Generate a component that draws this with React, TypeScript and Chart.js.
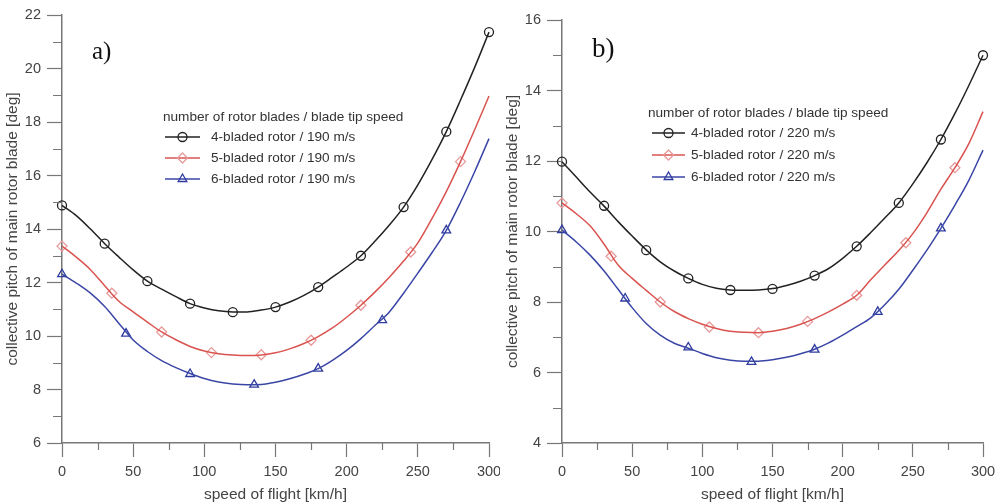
import React, { useEffect, useRef } from "react";
import { Chart, registerables } from "chart.js";

Chart.register(...registerables);

// ---------- data ----------
const speeds = [0, 10, 20, 30, 40, 50, 60, 70, 80, 90, 100, 110, 120, 130, 140, 150, 160, 170, 180, 190, 200, 210, 220, 230, 240, 250, 260, 270, 280, 290, 300];

const left4Line = [14.88, 14.5, 14.0, 13.45, 12.95, 12.47, 12.05, 11.75, 11.47, 11.21, 11.05, 10.94, 10.9, 10.9, 10.97, 11.08, 11.27, 11.52, 11.83, 12.2, 12.58, 13.0, 13.55, 14.15, 14.82, 15.65, 16.6, 17.64, 18.82, 20.05, 21.36];
const left5Line = [13.36, 12.95, 12.48, 11.88, 11.3, 10.9, 10.52, 10.15, 9.86, 9.61, 9.44, 9.34, 9.29, 9.27, 9.29, 9.37, 9.52, 9.72, 9.98, 10.3, 10.7, 11.15, 11.65, 12.2, 12.8, 13.48, 14.4, 15.4, 16.52, 17.72, 18.97];
const left6Line = [12.31, 11.98, 11.6, 11.1, 10.47, 9.85, 9.42, 9.08, 8.82, 8.6, 8.41, 8.28, 8.21, 8.18, 8.19, 8.27, 8.4, 8.57, 8.78, 9.09, 9.46, 9.9, 10.4, 10.9, 11.6, 12.35, 13.12, 13.95, 15.0, 16.15, 17.38];

const right4Line = [11.98, 11.55, 11.12, 10.72, 10.28, 9.87, 9.48, 9.14, 8.88, 8.67, 8.5, 8.39, 8.34, 8.33, 8.34, 8.38, 8.47, 8.59, 8.75, 8.95, 9.24, 9.58, 9.97, 10.38, 10.81, 11.35, 11.95, 12.61, 13.35, 14.15, 15.0];
const right5Line = [10.81, 10.51, 10.16, 9.64, 9.05, 8.67, 8.33, 8.0, 7.73, 7.53, 7.37, 7.25, 7.17, 7.14, 7.13, 7.17, 7.25, 7.37, 7.53, 7.72, 7.94, 8.19, 8.63, 9.05, 9.46, 9.94, 10.53, 11.2, 11.81, 12.5, 13.4];
const right6Line = [10.04, 9.71, 9.33, 8.88, 8.36, 7.84, 7.39, 7.06, 6.83, 6.69, 6.54, 6.42, 6.35, 6.32, 6.32, 6.36, 6.43, 6.53, 6.66, 6.84, 7.06, 7.3, 7.55, 7.92, 8.36, 8.9, 9.47, 10.09, 10.75, 11.46, 12.31];

const circleSpeeds = [0, 30, 60, 90, 120, 150, 180, 210, 240, 270, 300];
const diamondSpeeds = [0, 35, 70, 105, 140, 175, 210, 245, 280];
const triangleSpeeds = [0, 45, 90, 135, 180, 225, 270];

const left4Marks = [14.88, 13.45, 12.05, 11.21, 10.89, 11.08, 11.83, 13.0, 14.82, 17.64, 21.36];
const left5Marks = [13.36, 11.6, 10.15, 9.38, 9.3, 9.84, 11.15, 13.14, 16.52];
const left6Marks = [12.31, 10.09, 8.58, 8.18, 8.78, 10.59, 13.95];

const right4Marks = [11.98, 10.73, 9.47, 8.67, 8.34, 8.37, 8.75, 9.58, 10.81, 12.61, 15.0];
const right5Marks = [10.81, 9.3, 8.0, 7.29, 7.13, 7.45, 8.19, 9.68, 11.81];
const right6Marks = [10.04, 8.1, 6.71, 6.3, 6.65, 7.72, 10.09];

const leftLegend = ["4-bladed rotor / 190 m/s", "5-bladed rotor / 190 m/s", "6-bladed rotor / 190 m/s"];
const rightLegend = ["4-bladed rotor / 220 m/s", "5-bladed rotor / 220 m/s", "6-bladed rotor / 220 m/s"];
const legendTitle = "number of rotor blades / blade tip speed";

const xMinorTicks = [25, 75, 125, 175, 225, 275];
const leftYMinor = [7, 9, 11, 13, 15, 17, 19, 21];
const rightYMinor = [5, 7, 9, 11, 13, 15];

const xTitle = "speed of flight [km/h]";
const yTitle = "collective pitch of main rotor blade [deg]";

// ---------- styles ----------
const SANS = "'Liberation Sans', Arial, sans-serif";
const SERIF = "'Liberation Serif', 'Times New Roman', serif";
const AXIS = "#777";
const TXT = "#444";
const COLORS = {
  black: "#222222",
  red: "#d9534f",
  redMark: "#e89a9a",
  blue: "#3a46a6",
  blueMark: "#2e3b9e",
};

type Panel = {
  width: number;
  padTop: number;
  padRight: number;
  yMin: number;
  yMax: number;
  yMinor: number[];
  lines: number[][];
  marks: number[][];
  legend: string[];
  letter: string;
  letterSize: number;
  letterX: number;
  letterY: number;
  legendX: number;
  legendTitleY: number;
  legendRows: number[];
  legendLineX: [number, number];
  legendTextX: number;
};

const pts = (xs: number[], ys: number[]) => xs.map((x, i) => ({ x, y: ys[i] }));

function drawMarker(ctx: CanvasRenderingContext2D, kind: number, x: number, y: number) {
  ctx.beginPath();
  if (kind === 0) {
    ctx.arc(x, y, 4.5, 0, Math.PI * 2);
  } else if (kind === 1) {
    const r = 5;
    ctx.moveTo(x, y - r);
    ctx.lineTo(x + r, y);
    ctx.lineTo(x, y + r);
    ctx.lineTo(x - r, y);
    ctx.closePath();
  } else {
    const r = 5;
    ctx.moveTo(x, y - r);
    ctx.lineTo(x + r * 0.866, y + r * 0.5);
    ctx.lineTo(x - r * 0.866, y + r * 0.5);
    ctx.closePath();
  }
  ctx.stroke();
}

function makeDecor(p: Panel) {
  return {
    id: "decor",
    afterDraw(chart: any) {
      const { ctx, chartArea, scales } = chart;
      ctx.save();
      // minor ticks
      ctx.strokeStyle = AXIS;
      ctx.lineWidth = 1.2;
      ctx.beginPath();
      p.yMinor.forEach((v) => {
        const y = Math.round(scales.y.getPixelForValue(v)) + 0.5;
        ctx.moveTo(chartArea.left - 9, y);
        ctx.lineTo(chartArea.left, y);
      });
      xMinorTicks.forEach((v) => {
        const x = Math.round(scales.x.getPixelForValue(v)) + 0.5;
        ctx.moveTo(x, chartArea.bottom);
        ctx.lineTo(x, chartArea.bottom + 7);
      });
      ctx.stroke();

      // panel letter
      ctx.fillStyle = "#111";
      ctx.font = `${p.letterSize}px ${SERIF}`;
      ctx.textBaseline = "alphabetic";
      ctx.textAlign = "left";
      ctx.fillText(p.letter, p.letterX, p.letterY);

      // legend
      ctx.fillStyle = "#333";
      ctx.font = `13.6px ${SANS}`;
      ctx.textBaseline = "middle";
      ctx.fillText(legendTitle, p.legendX, p.legendTitleY);
      const lineCols = [COLORS.black, COLORS.red, COLORS.blue];
      const markCols = [COLORS.black, COLORS.redMark, COLORS.blueMark];
      p.legend.forEach((label, i) => {
        const y = p.legendRows[i];
        ctx.strokeStyle = lineCols[i];
        ctx.lineWidth = 1.5;
        ctx.beginPath();
        ctx.moveTo(p.legendLineX[0], y);
        ctx.lineTo(p.legendLineX[1], y);
        ctx.stroke();
        ctx.strokeStyle = markCols[i];
        ctx.lineWidth = 1.3;
        drawMarker(ctx, i, (p.legendLineX[0] + p.legendLineX[1]) / 2, y);
        ctx.fillStyle = "#333";
        ctx.fillText(label, p.legendTextX, y);
      });
      ctx.restore();
    },
  };
}

function makeConfig(p: Panel): any {
  const lineCols = [COLORS.black, COLORS.red, COLORS.blue];
  const markCols = [COLORS.black, COLORS.redMark, COLORS.blueMark];
  const markX = [circleSpeeds, diamondSpeeds, triangleSpeeds];
  const styles = ["circle", "rectRot", "triangle"];
  const radii = [4.5, 5, 5];
  const datasets: any[] = [];
  p.lines.forEach((vals, i) => {
    datasets.push({
      data: pts(speeds, vals),
      borderColor: lineCols[i],
      borderWidth: 1.5,
      pointRadius: 0,
      fill: false,
      cubicInterpolationMode: "monotone",
      clip: false,
    });
  });
  p.marks.forEach((vals, i) => {
    datasets.push({
      data: pts(markX[i], vals),
      showLine: false,
      pointStyle: styles[i],
      pointRadius: radii[i],
      pointBorderWidth: 1.3,
      pointBorderColor: markCols[i],
      pointBackgroundColor: "rgba(0,0,0,0)",
      borderColor: markCols[i],
      clip: false,
    });
  });
  return {
    type: "line",
    data: { datasets },
    options: {
      animation: false,
      responsive: false,
      maintainAspectRatio: false,
      events: [],
      layout: { padding: { top: p.padTop, right: p.padRight, left: 0, bottom: 0 } },
      plugins: { legend: { display: false }, tooltip: { enabled: false } },
      scales: {
        x: {
          type: "linear",
          min: 0,
          max: 300,
          ticks: { stepSize: 50, color: TXT, font: { size: 14.5, family: SANS }, padding: 6, maxRotation: 0 },
          grid: { display: true, drawOnChartArea: false, drawTicks: true, tickLength: 14, tickColor: AXIS, tickWidth: 1.2 },
          border: { display: true, color: AXIS, width: 1.5 },
          title: { display: true, text: xTitle, color: TXT, font: { size: 15.5, family: SANS }, padding: { top: 0, bottom: 0 } },
          afterFit: (s: any) => {
            s.height = 61;
            s.paddingLeft = 0;
            s.paddingRight = 0;
          },
        },
        y: {
          type: "linear",
          min: p.yMin,
          max: p.yMax,
          ticks: { stepSize: 2, color: TXT, font: { size: 14.5, family: SANS }, padding: 6 },
          grid: { display: true, drawOnChartArea: false, drawTicks: true, tickLength: 15, tickColor: AXIS, tickWidth: 1.2 },
          border: { display: true, color: AXIS, width: 1.5 },
          title: { display: true, text: yTitle, color: TXT, font: { size: 15.5, family: SANS }, padding: { top: 3, bottom: 0 } },
          afterFit: (s: any) => {
            s.width = 62;
            s.paddingTop = 0;
            s.paddingBottom = 0;
          },
        },
      },
    },
    plugins: [makeDecor(p)],
  };
}

function ChartPanel({ panel, left }: { panel: Panel; left: number }) {
  const ref = useRef<HTMLCanvasElement | null>(null);
  useEffect(() => {
    if (!ref.current) return;
    const chart = new Chart(ref.current, makeConfig(panel));
    return () => chart.destroy();
  }, [panel]);
  return (
    <canvas
      ref={ref}
      width={panel.width}
      height={504}
      style={{ position: "absolute", left, top: 0, width: panel.width, height: 504, display: "block" }}
    />
  );
}

const leftPanel: Panel = {
  width: 500,
  padTop: 15,
  padRight: 11,
  yMin: 6,
  yMax: 22,
  yMinor: leftYMinor,
  lines: [left4Line, left5Line, left6Line],
  marks: [left4Marks, left5Marks, left6Marks],
  legend: leftLegend,
  letter: "a)",
  letterSize: 25,
  letterX: 92,
  letterY: 59,
  legendX: 163,
  legendTitleY: 117,
  legendRows: [137, 158, 179],
  legendLineX: [165, 200],
  legendTextX: 211,
};

const rightPanel: Panel = {
  width: 502,
  padTop: 20,
  padRight: 19,
  yMin: 4,
  yMax: 16,
  yMinor: rightYMinor,
  lines: [right4Line, right5Line, right6Line],
  marks: [right4Marks, right5Marks, right6Marks],
  legend: rightLegend,
  letter: "b)",
  letterSize: 27,
  letterX: 92,
  letterY: 57,
  legendX: 148,
  legendTitleY: 113,
  legendRows: [133, 155, 177],
  legendLineX: [152, 185],
  legendTextX: 191,
};

export default function App() {
  useEffect(() => {
    document.body.style.margin = "0";
  }, []);
  return (
    <div style={{ position: "relative", width: 1002, height: 504, background: "#fff", overflow: "hidden" }}>
      <ChartPanel panel={leftPanel} left={0} />
      <ChartPanel panel={rightPanel} left={500} />
    </div>
  );
}
